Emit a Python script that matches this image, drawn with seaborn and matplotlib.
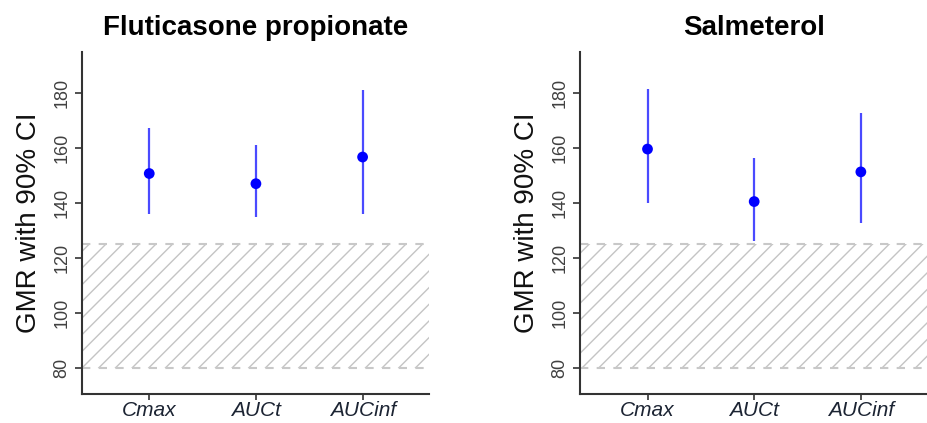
# GMR with 90% CI for fluticasone propionate and salmeterol
import numpy as np
import pandas as pd
import matplotlib
matplotlib.use("Agg")
import matplotlib.pyplot as plt
import seaborn as sns

# data
metrics = ["Cmax", "AUCt", "AUCinf"]

fp_gmr = [150.8, 147.1, 156.8]
fp_low = [136.1, 134.9, 136.1]
fp_high = [167.3, 161.2, 181.2]

sal_gmr = [159.7, 140.6, 151.4]
sal_low = [140.2, 126.2, 132.7]
sal_high = [181.6, 156.4, 172.7]

panels = [
    ("Fluticasone propionate", fp_gmr, fp_low, fp_high),
    ("Salmeterol", sal_gmr, sal_low, sal_high),
]

# equivalence band
band_low, band_high = 80, 125

sns.set_style("ticks")
plt.rcParams["font.family"] = ["Liberation Sans", "DejaVu Sans"]
plt.rcParams["hatch.linewidth"] = 1.0
plt.rcParams["text.color"] = "#111111"
plt.rcParams["axes.labelcolor"] = "#111111"

fig = plt.figure(figsize=(9.27, 4.23), dpi=100)
axes = [fig.add_axes([0.0885, 0.068, 0.374, 0.809]),
        fig.add_axes([0.626, 0.068, 0.374, 0.809])]

for ax, (title, gmr, low, high) in zip(axes, panels):
    df = pd.DataFrame({"metric": metrics, "gmr": gmr, "low": low, "high": high})

    # hatched region + dashed limits
    ax.fill_between([-1, 3], band_low, band_high, facecolor="none",
                    edgecolor="#c4c4c4", hatch="//", linewidth=0, zorder=0)
    for yv in (band_low, band_high):
        ax.axhline(yv, color="#c8c8c8", lw=1.5, ls=(0, (4, 4)), zorder=1)

    ax.vlines(df.metric, df.low, df.high, color="#4a4aff", lw=1.6, zorder=2)
    sns.scatterplot(data=df, x="metric", y="gmr", ax=ax, color="#0000ff",
                    s=60, edgecolor="none", zorder=3)

    ax.set_xlim(-0.63, 2.62)
    ax.set_ylim(70.5, 195)
    ax.set_yticks([80, 100, 120, 140, 160, 180])
    ax.set_xlabel("")
    ax.set_ylabel("GMR with 90% CI", fontsize=20, labelpad=8)
    ax.set_title(title, fontsize=20, fontweight="bold", pad=12, color="black")

    ax.tick_params(axis="y", labelsize=13, labelrotation=90, length=5,
                   width=1.2, colors="#333333", labelcolor="#404040")
    ax.tick_params(axis="x", labelsize=15, length=4, width=1.2, pad=1,
                   colors="#333333", labelcolor="#1c2433")
    for lab in ax.get_yticklabels():
        lab.set_va("center")
    for lab in ax.get_xticklabels():
        lab.set_fontstyle("italic")

    sns.despine(ax=ax)
    for side in ("left", "bottom"):
        ax.spines[side].set_color("#333333")
        ax.spines[side].set_linewidth(1.5)

fig.savefig("out.png", dpi=100)
